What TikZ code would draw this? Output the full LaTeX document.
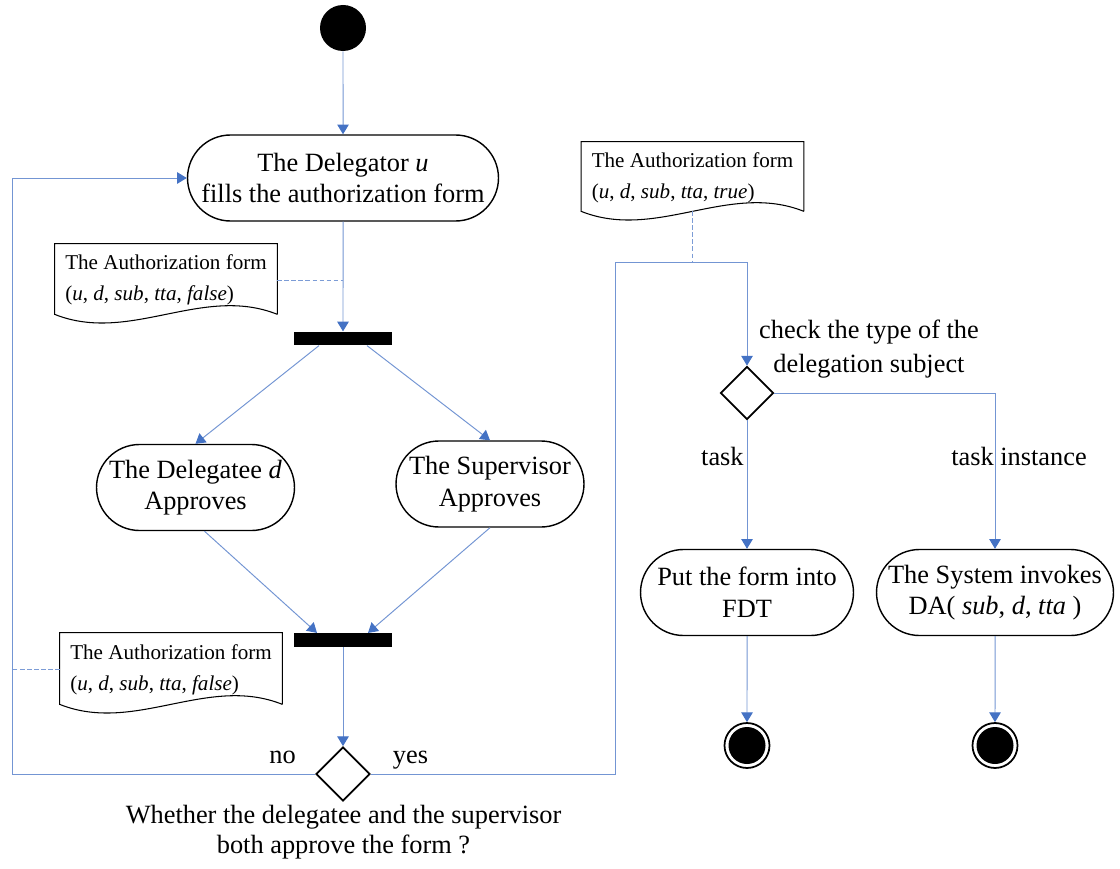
\documentclass[tikz,border=0pt]{standalone}
\usepackage{fontspec}
\setmainfont{Liberation Serif}
\usepackage{xcolor}
\usetikzlibrary{arrows.meta,shapes.misc,shapes.geometric}
\definecolor{flowblue}{RGB}{68,114,196}

\begin{document}
\begin{tikzpicture}[
  action/.style={
    rounded rectangle, draw=black, line width=0.8pt,
    minimum width=#1, minimum height=1.72cm, inner sep=2pt,
    align=center, font=\fontsize{15}{18}\selectfont
  },
  bar/.style={
    fill=black, minimum width=1.96cm, minimum height=0.27cm, inner sep=0pt
  },
  decision/.style={
    diamond, draw=black, line width=1pt, aspect=1,
    minimum size=1.08cm, inner sep=0pt
  },
  startstate/.style={
    circle, fill=black, minimum size=0.92cm, inner sep=0pt
  },
  endstate/.style={
    circle, draw=black, line width=1pt, minimum size=0.9cm, inner sep=0pt,
    path picture={\fill[black] (path picture bounding box.center) circle (0.37cm);}
  },
  form/.style={
    minimum width=4.44cm, minimum height=#1, inner sep=0pt, align=left,
    font=\fontsize{12}{17.5}\selectfont
  },
  formline/.style={draw=black, line width=0.6pt},
  lbl/.style={font=\fontsize{15}{18}\selectfont, inner sep=0pt},
  arr/.style={-{Triangle[width=6.5pt,length=5.5pt,color=flowblue]}, color=flowblue!75, line width=0.55pt},
  link/.style={color=flowblue!70, line width=0.55pt, dash pattern=on 2.5pt off 1.5pt}
]
\useasboundingbox (0,0) rectangle (22.4,-17.38);

% States and actions
\node[startstate] (start) at (6.86,-0.56) {};
\node[action=6.36cm] (fill) at (6.86,-3.56) {The Delegator \textit{u}\\fills the authorization form};
\node[bar] (bar1) at (6.86,-6.77) {};
\node[action=4.1cm] (dele) at (3.91,-9.75) {The Delegatee \textit{d}\\Approves};
\node[action=3.9cm] (sup) at (9.8,-9.68) {The Supervisor\\Approves};
\node[bar] (bar2) at (6.86,-12.8) {};
\node[decision] (dec1) at (6.86,-15.48) {};

\node[decision, minimum size=1.06cm] (dec2) at (14.94,-7.86) {};
\node[action=4.4cm] (fdt) at (14.94,-11.85) {Put the form into\\FDT};
\node[action=4.88cm] (sys) at (19.9,-11.85) {The System invokes\\DA( \textit{sub}, \textit{d}, \textit{tta} )};
\node[endstate] (end1) at (14.94,-14.91) {};
\node[endstate] (end2) at (19.9,-14.91) {};

% Authorization forms
\node[form=1.36cm] (form1) at (3.32,-5.6) {The Authorization form\\(\textit{u}, \textit{d}, \textit{sub}, \textit{tta}, \textit{false})};
\node[form=1.38cm] (form2) at (3.42,-13.39) {The Authorization form\\(\textit{u}, \textit{d}, \textit{sub}, \textit{tta}, \textit{false})};
\node[form=1.34cm] (form3) at (13.85,-3.55) {The Authorization form\\(\textit{u}, \textit{d}, \textit{sub}, \textit{tta}, \textit{true})};
\foreach \n in {form1,form2,form3}
  \draw[formline] (\n.south east) -- ([yshift=0.04cm]\n.north east) -- ([yshift=0.04cm]\n.north west) -- (\n.south west)
    .. controls ([xshift=1.5cm,yshift=-0.6cm]\n.south west) and ([xshift=-1.5cm,yshift=0.6cm]\n.south east) .. (\n.south east);

% Labels
\node[lbl, anchor=base] (no) at (5.65,-15.26) {no};
\node[lbl, anchor=base] (yes) at (8.21,-15.26) {yes};
\node[lbl, align=center, font=\fontsize{15}{17}\selectfont] (ask) at (6.87,-16.64)
  {Whether the delegatee and the supervisor\\both approve the form ?};
\node[lbl, align=center, font=\fontsize{15}{19}\selectfont] (check) at (17.38,-6.98)
  {check the type of the\\delegation subject};
\node[lbl, anchor=base east] (task) at (14.88,-9.3) {task};
\node[lbl, anchor=base] (inst) at (20.38,-9.3) {task instance};

% Turning points
\coordinate (lturn) at (0.24,-15.48);
\coordinate (rturn) at (12.3,-5.24);

% Flow
\draw[arr] (start) -- (fill);
\draw[arr] (fill) -- (bar1);
\draw[arr] ([xshift=-0.48cm]bar1.south) -- (dele.north);
\draw[arr] ([xshift=0.48cm]bar1.south) -- (sup.north);
\draw[arr] ([xshift=0.18cm]dele.south) -- ([xshift=-0.52cm]bar2.north);
\draw[arr] (sup.south) -- ([xshift=0.5cm]bar2.north);
\draw[arr] (bar2) -- (dec1);
\draw[arr] (dec1.west) -- (lturn) |- (fill.west);
\draw[arr] (dec1.east) -| (rturn) -| (dec2.north);
\draw[arr] (dec2.south) -- (fdt.north);
\draw[arr] (dec2.east) -| (sys.north);
\draw[arr] (fdt) -- (end1);
\draw[arr] (sys) -- (end2);

% Form links
\draw[link] (form1.east) -- (form1.east -| fill.south);
\draw[link] (form2.west) -- (form2.west -| lturn);
\draw[link] (form3.south) -- (form3.south |- rturn);

\end{tikzpicture}
\end{document}
